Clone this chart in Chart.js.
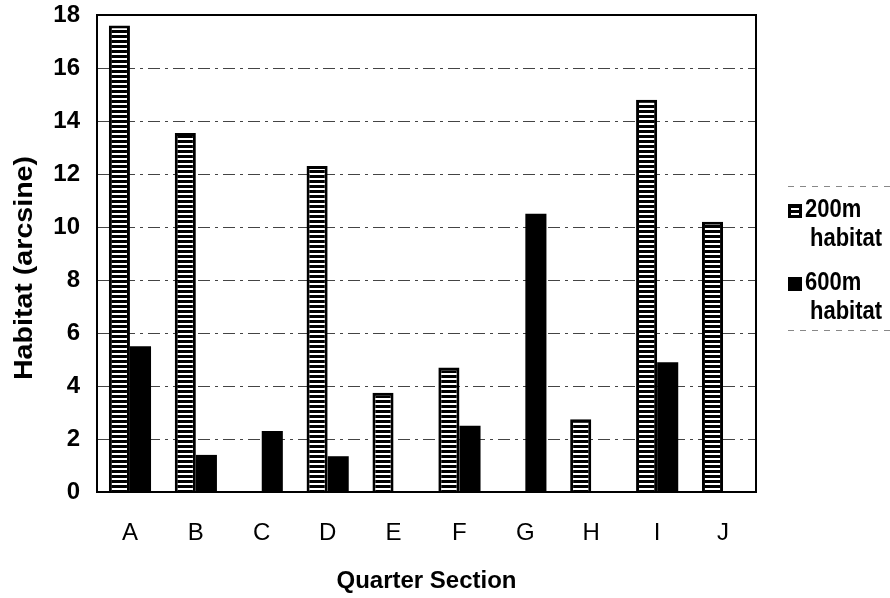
<!DOCTYPE html>
<html>
<head>
<meta charset="utf-8">
<script src="https://cdn.jsdelivr.net/npm/chart.js@4"></script>
<style>
  html, body { margin: 0; padding: 0; background: #fff; }
  #wrap { width: 890px; height: 598px; }
</style>
</head>
<body>
<div id="wrap"><canvas id="chart" width="890" height="598"></canvas></div>
<script>
const CATEGORIES = ['A', 'B', 'C', 'D', 'E', 'F', 'G', 'H', 'I', 'J'];
const HABITAT_200 = [17.6, 13.55, 0, 12.3, 3.75, 4.7, 0, 2.75, 14.8, 10.2];
const HABITAT_600 = [5.5, 1.4, 2.3, 1.35, 0, 2.5, 10.5, 0, 4.9, 0];
const SERIES_LABELS = [['200m', 'habitat'], ['600m', 'habitat']];
const Y_TITLE = 'Habitat (arcsine)';
const X_TITLE = 'Quarter Section';

const FONT = 'Arial, "Liberation Sans", sans-serif';

function stripePattern() {
  const c = document.createElement('canvas');
  c.width = 4;
  c.height = 5;
  const g = c.getContext('2d');
  g.fillStyle = '#000';
  g.fillRect(0, 0, 4, 5);
  g.fillStyle = '#fff';
  g.fillRect(0, 3, 4, 2);
  return g.createPattern(c, 'repeat');
}

const stripes = stripePattern();

const frame = {
  id: 'frame',
  afterDraw(chart) {
    const { ctx, chartArea: a } = chart;
    ctx.save();
    ctx.strokeStyle = '#000';
    ctx.lineWidth = 2;
    ctx.beginPath();
    ctx.moveTo(a.left, a.top);
    ctx.lineTo(a.right, a.top);
    ctx.lineTo(a.right, a.bottom);
    ctx.stroke();
    ctx.restore();
  },
};

// the scanned original is stretched vertically, so the y title is drawn by hand
const yTitle = {
  id: 'yTitle',
  afterDraw(chart) {
    const { ctx } = chart;
    ctx.save();
    ctx.translate(25, 268);
    ctx.rotate(-Math.PI / 2);
    ctx.scale(1.1, 1);
    ctx.font = 'bold 26px ' + FONT;
    ctx.textAlign = 'center';
    ctx.textBaseline = 'middle';
    ctx.fillStyle = '#000';
    ctx.fillText(Y_TITLE, 0, 0);
    ctx.restore();
  },
};

// legend drawn by hand, the labels wrap on two lines
const sideLegend = {
  id: 'sideLegend',
  afterDraw(chart) {
    const { ctx } = chart;
    const x = 788;
    ctx.save();
    ctx.strokeStyle = '#888';
    ctx.lineWidth = 1;
    ctx.setLineDash([6, 6]);
    ctx.beginPath();
    ctx.moveTo(788, 186.5);
    ctx.lineTo(890, 186.5);
    ctx.moveTo(788, 330.5);
    ctx.lineTo(890, 330.5);
    ctx.stroke();
    ctx.setLineDash([]);

    chart.data.datasets.forEach((ds, i) => {
      const y = 210 + i * 73;
      ctx.fillStyle = '#000';
      ctx.fillRect(x, y - 6, 14, 14);
      if (i === 0) {
        ctx.fillStyle = '#fff';
        ctx.fillRect(x + 3, y - 2, 8, 2);
        ctx.fillRect(x + 3, y + 3, 8, 2);
      }
      ctx.fillStyle = '#000';
      ctx.font = 'bold 22px ' + FONT;
      ctx.textBaseline = 'middle';
      ctx.save();
      ctx.translate(0, y);
      ctx.scale(1, 1.15);
      ctx.fillText(ds.legendLines[0], x + 17, 0);
      ctx.fillText(ds.legendLines[1], x + 22, 29 / 1.15);
      ctx.restore();
    });
    ctx.restore();
  },
};

new Chart(document.getElementById('chart'), {
  type: 'bar',
  data: {
    labels: CATEGORIES,
    datasets: [
      {
        label: SERIES_LABELS[0].join(' '),
        legendLines: SERIES_LABELS[0],
        data: HABITAT_200,
        backgroundColor: stripes,
        borderColor: '#000',
        borderWidth: { left: 3, right: 3, top: 3, bottom: 0 },
        borderSkipped: false,
      },
      {
        label: SERIES_LABELS[1].join(' '),
        legendLines: SERIES_LABELS[1],
        data: HABITAT_600,
        backgroundColor: '#000',
        borderWidth: 0,
      },
    ],
  },
  options: {
    responsive: false,
    animation: false,
    layout: { padding: { left: 0, top: 15, right: 134, bottom: 0 } },
    datasets: {
      bar: { categoryPercentage: 0.64, barPercentage: 1.0 },
    },
    plugins: {
      legend: { display: false },
      tooltip: { enabled: false },
    },
    scales: {
      x: {
        grid: { display: false, drawTicks: false },
        border: { display: true, color: '#000', width: 2 },
        ticks: {
          color: '#000',
          padding: 27,
          font: { family: FONT, size: 24 },
        },
        title: {
          display: true,
          text: X_TITLE,
          color: '#000',
          padding: { top: 0, bottom: 2 },
          font: { family: FONT, size: 24, weight: 'bold' },
        },
        afterFit: (scale) => { scale.height = 106; },
      },
      y: {
        min: 0,
        max: 18,
        ticks: {
          stepSize: 2,
          color: '#000',
          padding: 17,
          font: { family: FONT, size: 24, weight: 'bold' },
        },
        grid: {
          drawTicks: false,
          color: (c) => (c.tick.value === 0 || c.tick.value === 18 ? 'rgba(0,0,0,0)' : '#444'),
          lineWidth: 1,
        },
        border: { display: true, color: '#000', width: 2, dash: [12, 5, 3, 5] },
        title: { display: false },
        afterFit: (scale) => {
          scale.width = 97;
          scale.paddingTop = 0;
        },
      },
    },
  },
  plugins: [frame, yTitle, sideLegend],
});
</script>
</body>
</html>
